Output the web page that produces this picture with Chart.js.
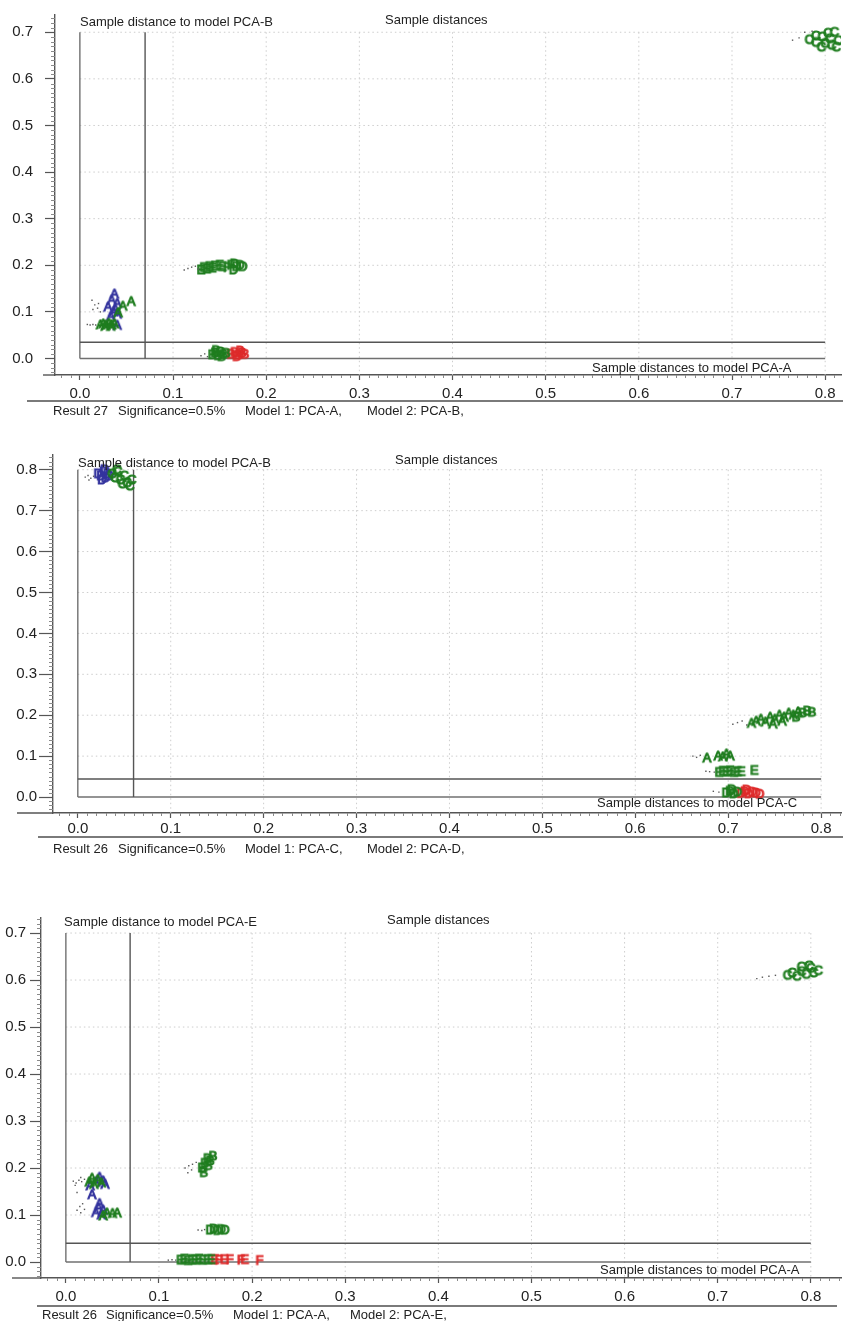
<!DOCTYPE html>
<html>
<head>
<meta charset="utf-8">
<title>Sample distances</title>
<script src="https://cdn.jsdelivr.net/npm/chart.js@4.4.1/dist/chart.umd.min.js"></script>
<style>
  html, body { margin: 0; padding: 0; background: #ffffff; }
  body { width: 846px; height: 1321px; position: relative; overflow: hidden; }
  canvas { position: absolute; left: 0; }
</style>
</head>
<body>
<canvas id="r27" width="846" height="440" style="top:0px"></canvas>
<canvas id="r26cd" width="846" height="440" style="top:440px"></canvas>
<canvas id="r26ae" width="846" height="421" style="top:900px"></canvas>
<script>
// ---------------- tick labels ----------------
const xTickValues = [0.0, 0.1, 0.2, 0.3, 0.4, 0.5, 0.6, 0.7, 0.8];
const yTicks07 = [0.0, 0.1, 0.2, 0.3, 0.4, 0.5, 0.6, 0.7];
const yTicks08 = [0.0, 0.1, 0.2, 0.3, 0.4, 0.5, 0.6, 0.7, 0.8];

// ---------------- Result 27: PCA-A (x) vs PCA-B (y) ----------------
const r27Limits = [0.07, 0.035];            // critical distance x, y
const r27GreenX = [0.783,0.790,0.797,0.803,0.810,0.800,0.807,0.814,0.790,0.812,0.796,0.805,
                   0.130,0.133,0.136,0.139,0.142,0.145,0.150,0.153,0.158,0.162,0.165,0.168,0.172,0.175,0.166,
                   0.041,0.046,0.055,
                   0.022,0.025,0.028,0.031,0.034,0.037,0.027,0.033,
                   0.142,0.145,0.148,0.151,0.154,0.157,0.146,0.152];
const r27GreenY = [0.684,0.678,0.690,0.698,0.700,0.676,0.672,0.682,0.692,0.668,0.668,0.686,
                   0.190,0.195,0.192,0.197,0.194,0.198,0.200,0.197,0.195,0.200,0.190,0.197,0.200,0.197,0.203,
                   0.098,0.112,0.122,
                   0.072,0.074,0.071,0.075,0.072,0.074,0.069,0.069,
                   0.008,0.012,0.006,0.014,0.009,0.011,0.017,0.004];
const r27GreenTag = ["C","C","C","C","C","C","C","C","C","C","C","C",
                     "E","E","E","E","E","E","E","E","F","F","D","D","D","D","D",
                     "A","A","A",
                     "A","A","A","A","A","A","A","A",
                     "B","B","B","B","B","B","B","B"];
const r27BlueX = [0.030,0.034,0.037,0.036,0.040,0.033,0.040,0.038,0.040];
const r27BlueY = [0.110,0.125,0.138,0.100,0.095,0.090,0.118,0.105,0.071];
const r27BlueTag = ["A","A","A","A","A","A","A","A","A"];
const r27RedX = [0.162,0.166,0.170,0.174,0.177,0.168,0.172];
const r27RedY = [0.009,0.013,0.007,0.012,0.009,0.004,0.016];
const r27RedTag = ["B","B","B","B","B","B","B"];
const r27DotX = [0.765,0.772,0.778,0.786, 0.112,0.116,0.120,0.124,0.127,
                 0.013,0.016,0.019,0.020,0.022,0.014, 0.008,0.011,0.014,0.017, 0.130,0.134,0.137];
const r27DotY = [0.683,0.688,0.700,0.702, 0.190,0.193,0.196,0.198,0.192,
                 0.125,0.115,0.108,0.118,0.100,0.105, 0.073,0.072,0.073,0.072, 0.006,0.010,0.004];

// ---------------- Result 26: PCA-C (x) vs PCA-D (y) ----------------
const r26cdLimits = [0.06, 0.044];
const r26cdGreenX = [0.037,0.040,0.043,0.046,0.050,0.053,0.056,0.048,0.042,0.058,
                     0.725,0.730,0.735,0.740,0.745,0.750,0.755,0.760,0.765,0.770,0.775,0.758,0.748,0.780,0.785,0.790,0.773,
                     0.677,0.689,0.694,0.698,0.702,
                     0.690,0.694,0.698,0.702,0.706,0.710,0.714,0.728,
                     0.698,0.702,0.706,0.710,0.704];
const r26cdGreenY = [0.790,0.780,0.795,0.775,0.785,0.768,0.760,0.765,0.800,0.775,
                     0.180,0.185,0.190,0.183,0.195,0.190,0.200,0.195,0.205,0.200,0.208,0.185,0.178,0.205,0.210,0.207,0.195,
                     0.095,0.100,0.098,0.105,0.100,
                     0.060,0.063,0.061,0.064,0.060,0.062,0.062,0.065,
                     0.010,0.014,0.008,0.012,0.018];
const r26cdGreenTag = ["C","C","C","C","C","C","C","C","C","C",
                       "A","A","A","A","A","A","A","A","A","A","A","A","A","B","B","B","B",
                       "A","A","A","A","A",
                       "E","E","E","E","E","E","E","E",
                       "D","D","D","D","D"];
const r26cdBlueX = [0.022,0.025,0.028,0.030,0.032,0.026,0.034,0.029];
const r26cdBlueY = [0.790,0.785,0.795,0.780,0.790,0.775,0.785,0.800];
const r26cdBlueTag = ["D","D","D","D","D","D","D","D"];
const r26cdRedX = [0.714,0.718,0.722,0.726,0.730,0.734,0.720];
const r26cdRedY = [0.009,0.013,0.008,0.012,0.010,0.007,0.017];
const r26cdRedTag = ["D","D","D","D","D","D","D"];
const r26cdDotX = [0.008,0.011,0.014,0.017,0.012, 0.705,0.710,0.715,0.720,
                   0.662,0.666,0.670, 0.676,0.680,0.685, 0.684,0.690];
const r26cdDotY = [0.782,0.786,0.779,0.784,0.775, 0.178,0.182,0.186,0.176,
                   0.100,0.097,0.102, 0.063,0.062,0.061, 0.014,0.012];

// ---------------- Result 26: PCA-A (x) vs PCA-E (y) ----------------
const r26aeLimits = [0.069, 0.04];
const r26aeGreenX = [0.775,0.780,0.785,0.790,0.795,0.800,0.803,0.798,0.790,0.808,
                     0.025,0.030,0.034,0.038,0.028,
                     0.044,0.050,0.055,0.040,
                     0.146,0.149,0.152,0.155,0.158,0.148,0.153,
                     0.155,0.159,0.163,0.167,0.171,
                     0.123,0.127,0.131,0.135,0.139,0.143,0.147,0.152,0.156];
const r26aeGreenY = [0.610,0.615,0.608,0.618,0.612,0.625,0.615,0.630,0.628,0.620,
                     0.170,0.165,0.175,0.168,0.178,
                     0.104,0.103,0.104,0.098,
                     0.200,0.210,0.220,0.215,0.225,0.190,0.205,
                     0.068,0.070,0.067,0.069,0.068,
                     0.004,0.006,0.003,0.005,0.004,0.006,0.004,0.005,0.005];
const r26aeGreenTag = ["C","C","C","C","C","C","C","C","C","C",
                       "A","A","A","A","A",
                       "A","A","A","A",
                       "B","B","B","B","B","B","B",
                       "D","D","D","D","D",
                       "E","E","E","E","E","E","E","E","E"];
const r26aeBlueX = [0.032,0.036,0.040,0.042,0.026,0.028, 0.032,0.035,0.038,0.040,0.036];
const r26aeBlueY = [0.170,0.180,0.172,0.165,0.162,0.143, 0.105,0.115,0.100,0.110,0.124];
const r26aeBlueTag = ["A","A","A","A","A","A","A","A","A","A","A"];
const r26aeRedX = [0.160,0.164,0.170,0.176,0.188,0.192,0.208];
const r26aeRedY = [0.005,0.004,0.005,0.005,0.004,0.005,0.003];
const r26aeRedTag = ["E","F","E","F","F","E","F"];
const r26aeDotX = [0.008,0.011,0.014,0.017,0.010,0.020,0.016,0.012,
                   0.012,0.015,0.018,0.016,0.020,
                   0.128,0.132,0.136,0.140,0.131,0.135,
                   0.142,0.146,0.149, 0.110,0.114,0.118,
                   0.742,0.748,0.755,0.762];
const r26aeDotY = [0.172,0.168,0.174,0.171,0.163,0.176,0.180,0.148,
                   0.110,0.118,0.124,0.105,0.112,
                   0.200,0.205,0.208,0.212,0.190,0.196,
                   0.068,0.067,0.069, 0.004,0.005,0.004,
                   0.603,0.606,0.608,0.610];

// ---------------- drawing helpers ----------------
const FONT = '"Liberation Sans", Arial, Helvetica, sans-serif';
const GREEN = '#1f7d1f', BLUE = '#34349e', RED = '#de2a2a', DOT = '#5a5a5a';
Chart.defaults.font.family = FONT;

const spriteCache = {};
function letterSprite(ch, color) {
  const key = ch + color;
  if (spriteCache[key]) return spriteCache[key];
  const c = document.createElement('canvas');
  c.width = 14; c.height = 14;
  const g = c.getContext('2d');
  g.font = '13px ' + FONT;
  g.textAlign = 'center';
  g.textBaseline = 'middle';
  g.globalAlpha = 0.5;
  g.fillStyle = color;
  g.fillText(ch, 7, 7.5);
  g.globalAlpha = 1;
  g.lineWidth = 1.1;
  g.strokeStyle = color;
  g.strokeText(ch, 7, 7.5);
  spriteCache[key] = c;
  return c;
}

function points(xs, ys) { return xs.map((x, i) => ({ x: x, y: ys[i] })); }

function letterSet(xs, ys, tags, color) {
  return {
    data: points(xs, ys),
    pointRadius: 4,
    pointStyle: (ctx) => (ctx.dataIndex === undefined ? 'circle' : letterSprite(tags[ctx.dataIndex], color)),
    backgroundColor: color,
    borderColor: color
  };
}

function dotSet(xs, ys) {
  return {
    data: points(xs, ys),
    pointRadius: 1,
    pointStyle: 'rect',
    backgroundColor: DOT,
    borderColor: DOT,
    borderWidth: 0
  };
}

function seg(ctx, x1, y1, x2, y2) {
  ctx.beginPath(); ctx.moveTo(x1, y1); ctx.lineTo(x2, y2); ctx.stroke();
}

// frame, critical limits, dotted grid, minor ticks and captions
const framePlugin = {
  id: 'frame',
  beforeDatasetsDraw(chart, args, P) {
    const { ctx, chartArea } = chart;
    const x = chart.scales.x, y = chart.scales.y;
    const x0 = x.getPixelForValue(0), xR = x.getPixelForValue(P.boxRight);
    const y0 = y.getPixelForValue(0), yT = y.getPixelForValue(P.boxTop);
    ctx.save();
    ctx.strokeStyle = '#cdcdcd';
    ctx.lineWidth = 1;
    ctx.setLineDash([1.5, 3]);
    P.xTicks.forEach(v => { if (v > 0) { const px = x.getPixelForValue(v); seg(ctx, px, yT, px, chartArea.bottom); } });
    P.yTicks.forEach(v => { if (v > 0) { const py = y.getPixelForValue(v); seg(ctx, x0, py, xR, py); } });
    ctx.setLineDash([]);
    ctx.strokeStyle = '#707070';
    ctx.lineWidth = 1.4;
    seg(ctx, x0, yT, x0, y0);
    seg(ctx, x0, y0, xR, y0);
    const xc = x.getPixelForValue(P.limits[0]), yc = y.getPixelForValue(P.limits[1]);
    ctx.strokeStyle = '#555555';
    seg(ctx, xc, yT, xc, y0);
    seg(ctx, x0, yc, xR, yc);
    ctx.restore();
  },
  afterDraw(chart, args, P) {
    const { ctx, chartArea } = chart;
    const x = chart.scales.x, y = chart.scales.y;
    ctx.save();
    // minor ticks every 0.01
    ctx.strokeStyle = '#8a8a8a';
    ctx.lineWidth = 1;
    for (let i = -2; i <= Math.floor(x.max * 100); i++) {
      if (i % 10 === 0) continue;
      const px = Math.round(x.getPixelForValue(i / 100)) + 0.5;
      seg(ctx, px, chartArea.bottom, px, chartArea.bottom + 3);
    }
    for (let i = -3; i <= Math.floor(y.max * 100); i++) {
      if (i % 10 === 0) continue;
      const py = Math.round(y.getPixelForValue(i / 100)) + 0.5;
      seg(ctx, chartArea.left - 4, py, chartArea.left, py);
    }
    // x axis overhang to the left of the y axis
    ctx.strokeStyle = '#555555';
    ctx.lineWidth = 1.4;
    seg(ctx, P.overhang, chartArea.bottom, chartArea.left, chartArea.bottom);
    // second rule under the tick labels
    ctx.strokeStyle = '#7a7a7a';
    ctx.lineWidth = 1.8;
    seg(ctx, P.rule[0], P.rule[2], P.rule[1], P.rule[2]);
    // captions
    ctx.fillStyle = '#222222';
    ctx.textBaseline = 'middle';
    ctx.textAlign = 'left';
    ctx.font = '13px ' + FONT;
    P.captions.forEach(c => ctx.fillText(c[2], c[0], c[1]));
    ctx.restore();
  }
};

function makePanel(id, P, datasets) {
  const H = document.getElementById(id).height;
  new Chart(document.getElementById(id), {
    type: 'scatter',
    data: { datasets: datasets },
    plugins: [framePlugin],
    options: {
      responsive: false,
      animation: false,
      devicePixelRatio: 1,
      events: [],
      layout: { padding: { top: P.top, left: 0, right: 0, bottom: 0 } },
      plugins: { legend: { display: false }, tooltip: { enabled: false }, frame: P },
      scales: {
        x: {
          type: 'linear', min: P.xMin, max: P.xMax,
          afterBuildTicks: s => { s.ticks = P.xTicks.map(v => ({ value: v })); },
          afterFit: s => { s.height = H - P.bottom; s.paddingLeft = 0; s.paddingRight = 0; },
          ticks: { callback: v => v.toFixed(1), font: { size: 15 }, color: '#222222',
                   padding: P.xPad, maxRotation: 0, autoSkip: false },
          grid: { drawOnChartArea: false, drawTicks: true, tickLength: 5, tickColor: '#555555', tickWidth: 1.2 },
          border: { display: true, color: '#555555', width: 1.4 }
        },
        y: {
          type: 'linear', min: P.yMin, max: P.yMax,
          afterBuildTicks: s => { s.ticks = P.yTicks.map(v => ({ value: v })); },
          afterFit: s => { s.width = P.left; s.paddingTop = 0; s.paddingBottom = 0; },
          ticks: { callback: v => v.toFixed(1), font: { size: 15 }, color: '#222222',
                   padding: P.yPad, autoSkip: false },
          grid: { drawOnChartArea: false, drawTicks: true, tickLength: P.yTick, tickColor: '#555555', tickWidth: 1.2 },
          border: { display: true, color: '#555555', width: 1.4 }
        }
      }
    }
  });
}

makePanel('r27', {
  top: 15, bottom: 375, left: 55,
  xMin: -0.0267, xMax: 0.817, yMin: -0.0354, yMax: 0.737,
  xTicks: xTickValues, yTicks: yTicks07, boxTop: 0.7, boxRight: 0.8, limits: r27Limits,
  xPad: 5, yPad: 12, yTick: 10, overhang: 43, rule: [27, 843, 401],
  captions: [
    [80, 22, 'Sample distance to model PCA-B'],
    [385, 20, 'Sample distances'],
    [592, 368, 'Sample distances to model PCA-A'],
    [53, 411, 'Result 27'], [118, 411, 'Significance=0.5%'],
    [245, 411, 'Model 1: PCA-A,'], [367, 411, 'Model 2: PCA-B,']
  ]
}, [
  dotSet(r27DotX, r27DotY),
  letterSet(r27GreenX, r27GreenY, r27GreenTag, GREEN),
  letterSet(r27BlueX, r27BlueY, r27BlueTag, BLUE),
  letterSet(r27RedX, r27RedY, r27RedTag, RED)
]);

makePanel('r26cd', {
  top: 15, bottom: 373, left: 53,
  xMin: -0.0267, xMax: 0.8214, yMin: -0.039, yMax: 0.836,
  xTicks: xTickValues, yTicks: yTicks08, boxTop: 0.8, boxRight: 0.8, limits: r26cdLimits,
  xPad: 2, yPad: 2, yTick: 14, overhang: 17, rule: [38, 843, 397],
  captions: [
    [78, 23, 'Sample distance to model PCA-B'],
    [395, 20, 'Sample distances'],
    [597, 363, 'Sample distances to model PCA-C'],
    [53, 409, 'Result 26'], [118, 409, 'Significance=0.5%'],
    [245, 409, 'Model 1: PCA-C,'], [367, 409, 'Model 2: PCA-D,']
  ]
}, [
  dotSet(r26cdDotX, r26cdDotY),
  letterSet(r26cdGreenX, r26cdGreenY, r26cdGreenTag, GREEN),
  letterSet(r26cdBlueX, r26cdBlueY, r26cdBlueTag, BLUE),
  letterSet(r26cdRedX, r26cdRedY, r26cdRedTag, RED)
]);

makePanel('r26ae', {
  top: 18, bottom: 378, left: 41,
  xMin: -0.0267, xMax: 0.8324, yMin: -0.034, yMax: 0.732,
  xTicks: xTickValues, yTicks: yTicks07, boxTop: 0.7, boxRight: 0.8, limits: r26aeLimits,
  xPad: 5, yPad: 4, yTick: 11, overhang: 12, rule: [37, 837, 406],
  captions: [
    [64, 22, 'Sample distance to model PCA-E'],
    [387, 20, 'Sample distances'],
    [600, 370, 'Sample distances to model PCA-A'],
    [42, 415, 'Result 26'], [106, 415, 'Significance=0.5%'],
    [233, 415, 'Model 1: PCA-A,'], [350, 415, 'Model 2: PCA-E,']
  ]
}, [
  dotSet(r26aeDotX, r26aeDotY),
  letterSet(r26aeGreenX, r26aeGreenY, r26aeGreenTag, GREEN),
  letterSet(r26aeBlueX, r26aeBlueY, r26aeBlueTag, BLUE),
  letterSet(r26aeRedX, r26aeRedY, r26aeRedTag, RED)
]);
</script>
</body>
</html>
